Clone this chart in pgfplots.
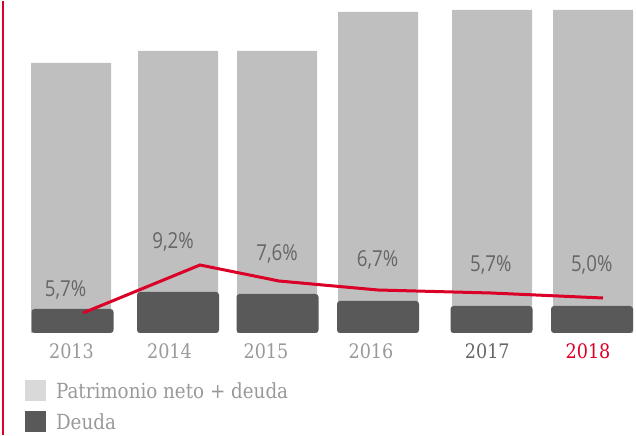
\documentclass[border=0pt]{standalone}
\usepackage{pgfplots}
\pgfplotsset{compat=1.18}
\usepackage{fontspec}
\setmainfont[FakeStretch=0.88]{DejaVu Serif}
\newfontfamily\pctfont[FakeStretch=0.85]{Open Sans}
\definecolor{barlight}{HTML}{BFBFBF}
\definecolor{bardark}{HTML}{595959}
\definecolor{legendlight}{HTML}{D9D9D9}
\definecolor{myred}{RGB}{218,0,40}
\definecolor{yeargray}{HTML}{999999}
\definecolor{yeardark}{HTML}{666666}
\definecolor{pctgray}{HTML}{666666}
\begin{document}
\begin{tikzpicture}
\begin{axis}[
  x=1bp, y=1bp, xmin=0, xmax=636, ymin=0, ymax=332,
  scale only axis, clip=false,
  axis line style={draw=none}, tick style={draw=none}, major tick length=0pt,
  ytick=\empty,
  xtick={71.5,169.5,266,371,487.3,588},
  xticklabels={{\color{yeargray}2013},{\color{yeargray}2014},{\color{yeargray}2015},{\color{yeargray}2016},{\color{yeardark}2017},{\color{myred}2018}},
  xticklabel style={anchor=center, yshift=-18.5bp, font=\fontsize{20bp}{24bp}\selectfont, inner sep=0pt},
  legend image code/.code={\fill[#1] (0bp,-10.5bp) rectangle (21bp,10.5bp);},
  legend style={at={(axis cs:25,-47.3)}, anchor=north west, draw=none, fill=none,
    inner sep=0pt, outer sep=0pt, font=\fontsize{20.8bp}{24bp}\selectfont, text=yeargray,
    /tikz/row sep=9.7bp, /tikz/column sep=10bp, nodes={inner sep=0pt, text depth=0pt}},
  legend cell align=left,
]
% Patrimonio neto + deuda (total bar height)
\addplot[ybar, bar width=80, bar shift=0pt, fill=barlight, draw=none, forget plot]
  coordinates {(71,270) (178,282) (277,282) (378,321) (492,323) (593,323)};
% Deuda
\addplot[ybar, bar width=82, bar shift=0pt, fill=bardark, draw=none, rounded corners=3bp, forget plot]
  coordinates {(72.5,24) (178,41) (277.5,39) (378,32) (491.5,27) (592,27)};
% ratio line
\addplot[myred, line width=3bp, mark=none, forget plot]
  coordinates {(83,20) (200,68) (279,52) (378,43) (491,40) (603,35)};
% percentage labels
\addplot[draw=none, mark=none, forget plot, point meta=explicit,
  nodes near coords={\pgfmathprintnumber[fixed, fixed zerofill, precision=1, use comma, assume math mode=true]{\pgfplotspointmeta}\%},
  nodes near coords style={anchor=center, font=\pctfont\fontsize{22bp}{26bp}\selectfont, text=pctgray, inner sep=0pt}]
  table[meta=p] {
x y p
65.5 43.5 5.7
173 91 9.2
277 79.5 7.6
377.5 73.5 6.7
490.8 68 5.7
591.7 68 5.0
};
\addlegendimage{fill=legendlight, draw=none}
\addlegendentry{Patrimonio neto + deuda}
\addlegendimage{fill=bardark, draw=none}
\addlegendentry{Deuda}
\draw[myred, line width=2bp] (axis cs:3,-102) -- (axis cs:3,332);
\path (axis cs:0,-102) rectangle (axis cs:636,332);
\end{axis}
\end{tikzpicture}
\end{document}
